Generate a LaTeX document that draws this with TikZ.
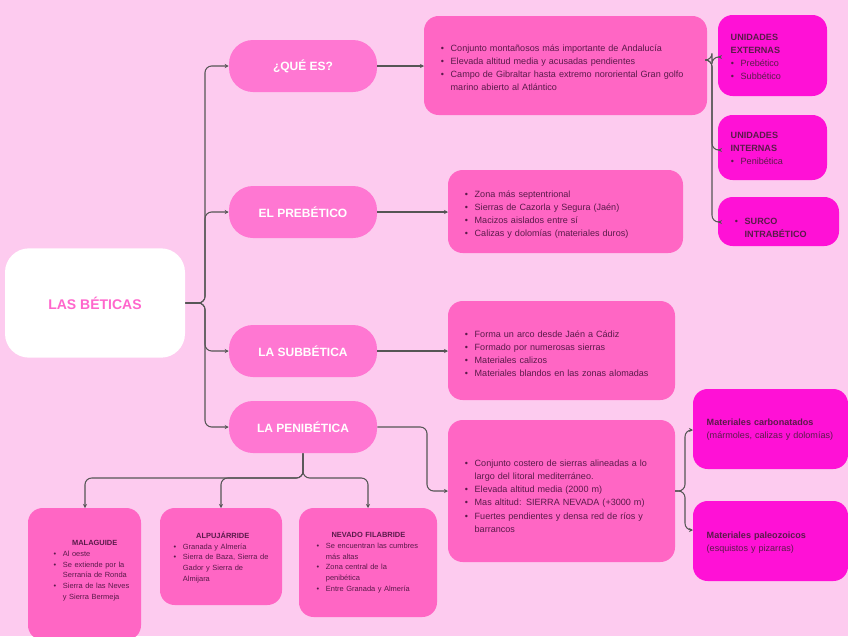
\documentclass[tikz,border=0pt]{standalone}
\usepackage{fontspec}
\setmainfont{Liberation Sans}
\usepackage{enumitem}
\usetikzlibrary{arrows.meta}
\definecolor{bg}{HTML}{FDCBEF}
\definecolor{lvl}{HTML}{FF77D2}
\definecolor{det}{HTML}{FF66C4}
\definecolor{mag}{HTML}{FF11D6}
\definecolor{tx}{HTML}{5A1A4A}
\definecolor{ttl}{HTML}{FF66CC}
\definecolor{ln}{HTML}{555555}
\newcommand{\bl}[1]{\begin{itemize}[leftmargin=1.1em,itemsep=0pt,parsep=0pt,topsep=0pt,partopsep=0pt]#1\end{itemize}}
\tikzset{
 lvl/.style={fill=lvl,rounded corners=18pt,text=white,font=\bfseries\fontsize{9}{10}\selectfont,minimum width=111pt,minimum height=39pt},
 con/.style={draw=ln,line width=0.8pt,-{Stealth[length=3pt,width=3pt]},rounded corners=5pt},
 dt/.style={text=tx,font=\fontsize{6.8}{9.8}\selectfont,align=left},
 st/.style={text=tx,font=\fontsize{5.6}{8}\selectfont,align=left},
}
\begin{document}
\hyphenpenalty=10000 \exhyphenpenalty=10000
\begin{tikzpicture}[x=0.75pt,y=-0.75pt]
\fill[bg] (0,0) rectangle (848,636);
\useasboundingbox (0,0) rectangle (848,636);
% main
\node[fill=white,rounded corners=18pt,minimum width=135pt,minimum height=82pt,text=ttl,font=\bfseries\fontsize{10.5}{12}\selectfont] (main) at (95,303) {LAS BÉTICAS};
\node[lvl] (que) at (303,66) {¿QUÉ ES?};
\node[lvl] (pre) at (303,212) {EL PREBÉTICO};
\node[lvl] (sub) at (303,351) {LA SUBBÉTICA};
\node[lvl] (pen) at (303,427) {LA PENIBÉTICA};
% detail boxes
\fill[det,rounded corners=11pt] (424,16) rectangle (707,115);
\node[dt,text width=192pt,anchor=north west] (d1) at (436,34) {\bl{\item Conjunto montañosos más importante de Andalucía \item Elevada altitud media y acusadas pendientes \item Campo de Gibraltar hasta extremo nororiental Gran golfo marino abierto al Atlántico}};
\coordinate (d1l) at (424,66); \coordinate (d1r) at (707,60);
\fill[det,rounded corners=11pt] (448,170) rectangle (683,253);
\node[dt,text width=150pt,anchor=north west] (d2) at (460,180) {\bl{\item Zona más septentrional \item Sierras de Cazorla y Segura (Jaén) \item Macizos aislados entre sí \item Calizas y dolomías (materiales duros)}};
\coordinate (d2l) at (448,212);
\fill[det,rounded corners=11pt] (448,301) rectangle (675,400);
\node[dt,text width=150pt,anchor=north west] (d3) at (460,320) {\bl{\item Forma un arco desde Jaén a Cádiz \item Formado por numerosas sierras \item Materiales calizos \item Materiales blandos en las zonas alomadas}};
\coordinate (d3l) at (448,351);
\fill[det,rounded corners=11pt] (448,420) rectangle (675,562);
\node[dt,text width=152pt,anchor=north west] (d4) at (460,449) {\bl{\item Conjunto costero de sierras alineadas a lo largo del litoral mediterráneo. \item Elevada altitud media (2000 m) \item Mas altitud: SIERRA NEVADA (+3000 m) \item Fuertes pendientes y densa red de ríos y barrancos}};
\coordinate (d4l) at (448,491); \coordinate (d4r) at (675,491);
% magenta boxes
\fill[mag,rounded corners=11pt] (718,15) rectangle (827,96);
\node[dt,font=\bfseries\fontsize{6.8}{9.8}\selectfont,text width=62pt,anchor=north west] (ue) at (726,29) {UNIDADES EXTERNAS\\[-1pt]\mdseries\bl{\item Prebético \item Subbético}};
\fill[mag,rounded corners=11pt] (718,115) rectangle (827,180);
\node[dt,font=\bfseries\fontsize{6.8}{9.8}\selectfont,text width=62pt,anchor=north west] (ui) at (726,127) {UNIDADES INTERNAS\\[-1pt]\mdseries\bl{\item Penibética}};
\fill[mag,rounded corners=11pt] (718,197) rectangle (839,246);
\node[dt,font=\bfseries\fontsize{6.8}{9.8}\selectfont,text width=66pt,anchor=north west] (su) at (730,207) {\bl{\item SURCO INTRABÉTICO}};
\fill[mag,rounded corners=11pt] (693,389) rectangle (848,469);
\node[dt,text width=112pt,anchor=north west] (mc) at (702,414) {\textbf{Materiales carbonatados}\\(mármoles, calizas y dolomías)};
\fill[mag,rounded corners=11pt] (693,501) rectangle (848,581);
\node[dt,text width=112pt,anchor=north west] (mp) at (702,527) {\textbf{Materiales paleozoicos}\\(esquistos y pizarras)};
% bottom boxes
\fill[det,rounded corners=11pt] (28,508) rectangle (141,640);
\node[st,text width=60pt,anchor=north west] (ma) at (50,536) {\centering\textbf{MALAGUIDE}\par\bl{\item Al oeste \item Se extiende por la Serranía de Ronda \item Sierra de las Neves y Sierra Bermeja}};
\fill[det,rounded corners=11pt] (160,508) rectangle (282,605);
\node[st,text width=72pt,anchor=north west] (al) at (170,527) {\centering\textbf{ALPUJÁRRIDE}\par\bl{\item Granada y Almería \item Sierra de Baza, Sierra de Gador y Sierra de Almijara}};
\fill[det,rounded corners=11pt] (299,508) rectangle (437,617);
\node[st,text width=76pt,anchor=north west] (ne) at (313,528) {\centering\textbf{NEVADO FILABRIDE}\par\bl{\item Se encuentran las cumbres más altas \item Zona central de la penibética \item Entre Granada y Almería}};
\coordinate (mat) at (85,508); \coordinate (alt) at (221,508); \coordinate (net) at (368,508);
% connectors
\foreach \t/\y in {que/66,pre/212,sub/351,pen/427}
  \draw[con] (main.east) -| (205,\y) -- (\t.west);
\draw[con] (que.east) -- (d1l);
\draw[con] (pre.east) -- (d2l);
\draw[con] (sub.east) -- (d3l);
\draw[con] (pen.east) -| (427,491) -- (d4l);
\foreach \y in {57,150,222}
  \draw[con] (d1r) -| (712,\y) -- (718,\y);
\draw[con] (d4r) -| (685,430) -- (693,430);
\draw[con] (d4r) -| (685,530) -- (693,530);
\foreach \c/\x in {mat/85,alt/221,net/368}
  \draw[con] (pen.south) |- (\x,478) -- (\c);
\end{tikzpicture}
\end{document}
